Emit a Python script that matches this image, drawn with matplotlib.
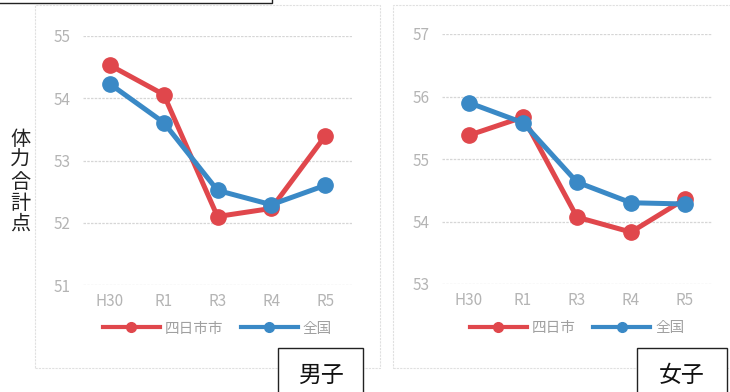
import matplotlib
matplotlib.use("Agg")
import matplotlib.pyplot as plt
from matplotlib.lines import Line2D
from matplotlib.patches import Rectangle

plt.rcParams['font.family'] = ['Noto Sans CJK JP', 'DejaVu Sans']

years = ["H30", "R1", "R3", "R4", "R5"]

boys_city = [54.53, 54.06, 52.10, 52.23, 53.39]
boys_nation = [54.23, 53.61, 52.52, 52.29, 52.60]
boys_ticks = [51, 52, 53, 54, 55]

girls_city = [55.38, 55.67, 54.07, 53.83, 54.36]
girls_nation = [55.90, 55.58, 54.63, 54.30, 54.28]
girls_ticks = [53, 54, 55, 56, 57]

RED = "#e0474c"
BLUE = "#3a89c6"
TICK_GREY = "#b4b4b4"

W, H = 730, 392
fig = plt.figure(figsize=(W / 100, H / 100), dpi=100)


def px_rect(x0, y0, x1, y1):
    """Figure-fraction rectangle from pixel edges (y measured from top)."""
    return [x0 / W, 1 - y1 / H, (x1 - x0) / W, (y1 - y0) / H]


# panel frames
for x0, x1 in [(35, 380), (393, 740)]:
    l, b, w, h = px_rect(x0, 5, x1, 368)
    fig.patches.append(Rectangle((l, b), w, h, transform=fig.transFigure,
                                 fill=False, ec="#e0e0e0", lw=0.8, ls=(0, (2, 1))))

# partially visible heading box at top
l, b, w, h = px_rect(-5, -20, 272, 3)
fig.patches.append(Rectangle((l, b), w, h, transform=fig.transFigure,
                             fill=False, ec="#222222", lw=1.0))


def draw_panel(rect, city, nation, ticks, city_label):
    ax = fig.add_axes(px_rect(*rect))
    x = range(len(years))
    ax.plot(x, city, color=RED, lw=3.6, marker="o", ms=11, zorder=3,
            solid_capstyle="round")
    ax.plot(x, nation, color=BLUE, lw=3.6, marker="o", ms=11, zorder=4,
            solid_capstyle="round")
    ax.set_xlim(-0.5, len(years) - 0.5)
    ax.set_ylim(ticks[0], ticks[-1])
    ax.set_yticks(ticks)
    ax.set_xticks(list(x))
    ax.set_xticklabels(years)
    for s in ax.spines.values():
        s.set_visible(False)
    ax.tick_params(length=0, labelsize=11, colors=TICK_GREY)
    ax.tick_params(axis="y", pad=9)
    ax.tick_params(axis="x", pad=6)
    ax.grid(axis="y", color="#d6d6d6", lw=0.9, ls=(0, (2, 1)))
    ax.set_axisbelow(True)
    for ln in ax.lines:
        ln.set_clip_on(False)
    handles = [
        Line2D([], [], color=RED, lw=3, marker="o", ms=7),
        Line2D([], [], color=BLUE, lw=3, marker="o", ms=7),
    ]
    ax.legend(handles, [city_label, "全国"], loc="center",
              bbox_to_anchor=(0.5, -0.175), ncol=2, frameon=False,
              fontsize=10.5, handlelength=3.9, handletextpad=0.35,
              columnspacing=1.2, labelcolor="#a0a0a0")
    return ax


draw_panel((83, 36, 352, 285), boys_city, boys_nation, boys_ticks, "四日市市")
draw_panel((442, 34, 712, 284), girls_city, girls_nation, girls_ticks, "四日市")

# y-axis title, stacked vertically
fig.text(20 / W, 1 - 182 / H, "\n".join("体力合計点"), ha="center", va="center",
         fontsize=14.5, linespacing=1.02, color="#222222")

# gender labels in boxes
for (x0, x1, label) in [(278, 363, "男子"), (637, 727, "女子")]:
    l, b, w, h = px_rect(x0, 348, x1, 400)
    fig.patches.append(Rectangle((l, b), w, h, transform=fig.transFigure,
                                 fill=True, fc="white", ec="#222222", lw=1.0))
    fig.text((x0 + x1) / 2 / W, 1 - 375 / H, label, ha="center", va="center",
             fontsize=16.5, color="#111111")

fig.savefig("out.png", dpi=100)
